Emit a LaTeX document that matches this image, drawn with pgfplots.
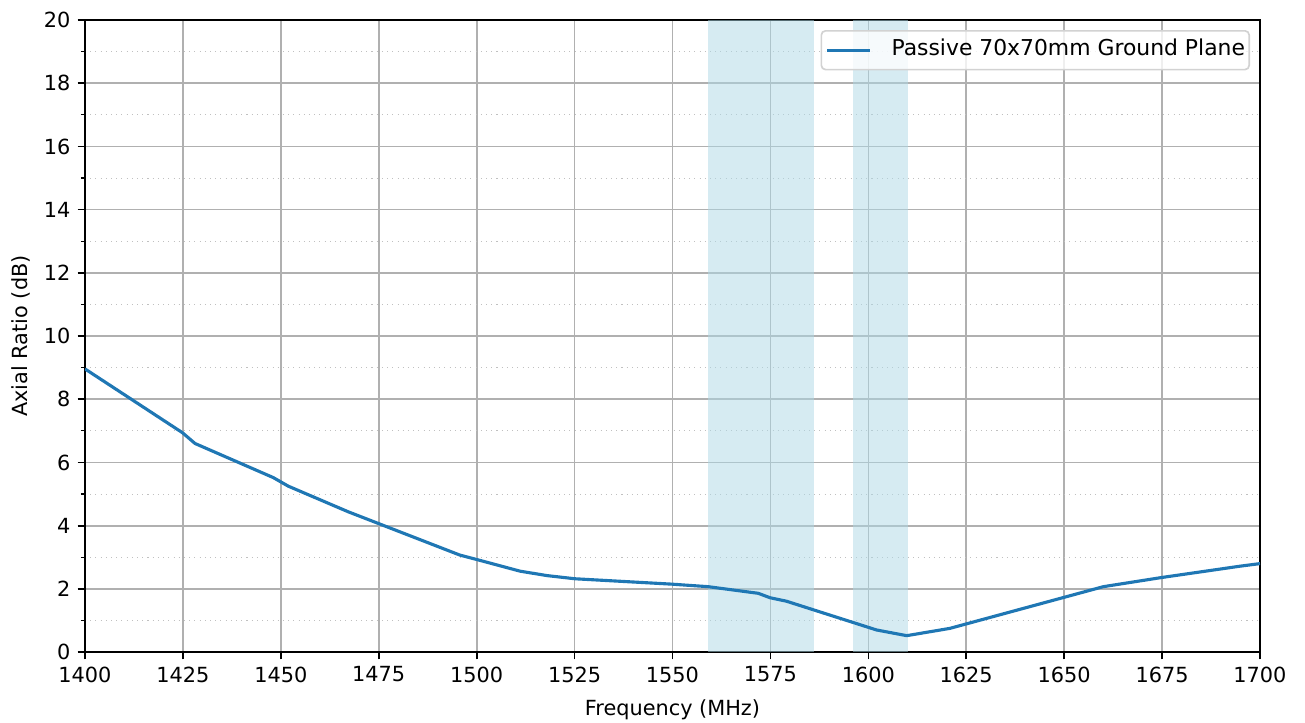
\documentclass[border=0pt]{standalone}
\usepackage{fontspec}
\setmainfont{DejaVu Sans}
\usepackage{pgfplots}
\pgfplotsset{compat=1.18}
\definecolor{mplblue}{HTML}{1F77B4}
\definecolor{spanblue}{HTML}{ADD8E6}
\definecolor{gridgray}{HTML}{B0B0B0}
\begin{document}
\begin{tikzpicture}[x=1pt,y=1pt]
\path[use as bounding box] (-40.8,-33.6) rectangle (585.6,313.0);
\begin{axis}[
  at={(0,0)}, anchor=south west,
  scale only axis,
  width=564pt, height=303.4pt,
  xmin=1400, xmax=1700, ymin=0, ymax=20,
  xtick={1400,1425,...,1700},
  ytick={0,2,...,20},
  minor ytick={1,3,...,19},
  /pgf/number format/assume math mode=true,
  /pgf/number format/1000 sep={},
  tick label style={font=\fontsize{10}{12}\selectfont, text=black},
  label style={font=\fontsize{10}{12}\selectfont},
  xlabel={Frequency (MHz)},
  ylabel={Axial Ratio (dB)},
  xlabel style={yshift=-1.5pt},
  ylabel style={yshift=-0.5pt},
  tick align=outside,
  major tick length=3.5pt,
  minor tick length=2pt,
  major tick style={black, line width=0.8pt},
  minor tick style={black, line width=0.6pt},
  xtick pos=bottom, ytick pos=left,
  grid=both,
  major grid style={gridgray, line width=0.8pt},
  minor grid style={gridgray!80, line width=0.5pt, dotted},
  axis line style={black, line width=0.8pt},
  legend style={at={(1,1)}, xshift=-4.8pt, yshift=-4.8pt, anchor=north east,
    draw=gray!35, line width=0.8pt, rounded corners=2pt,
    fill=white, fill opacity=0.8, text opacity=1,
    font=\fontsize{10.5}{12}\selectfont, inner xsep=2pt, inner ysep=4.3pt,
    nodes={inner sep=0pt, text height=7.6pt, text depth=2.4pt}},
  legend cell align=left,
  legend image code/.code={\draw[#1, line width=1.5pt] (0pt,0pt) -- (20.6pt,0pt); \path (30.2pt,0pt);},
]
\addplot[draw=none, fill=spanblue, fill opacity=0.5, forget plot] coordinates {(1559,0) (1559,20) (1586,20) (1586,0)} -- cycle;
\addplot[draw=none, fill=spanblue, fill opacity=0.5, forget plot] coordinates {(1596,0) (1596,20) (1610,20) (1610,0)} -- cycle;
\addplot[mplblue, line width=1.5pt] coordinates {
(1400,8.96) (1424.9,6.94) (1428.1,6.60) (1448.1,5.52) (1451.9,5.25)
(1467.2,4.44) (1474.9,4.07) (1495.7,3.07) (1500,2.93) (1511.1,2.56)
(1518,2.42) (1525.1,2.32) (1549.8,2.15) (1559.1,2.07) (1571.9,1.86)
(1574.9,1.72) (1579.1,1.61) (1602.1,0.70) (1609.8,0.52) (1620.8,0.75)
(1660,2.07) (1674.9,2.36) (1695,2.72) (1700,2.80)
};
\addlegendentry{Passive 70x70mm Ground Plane\hspace{2.8pt}}
\end{axis}
\end{tikzpicture}
\end{document}
